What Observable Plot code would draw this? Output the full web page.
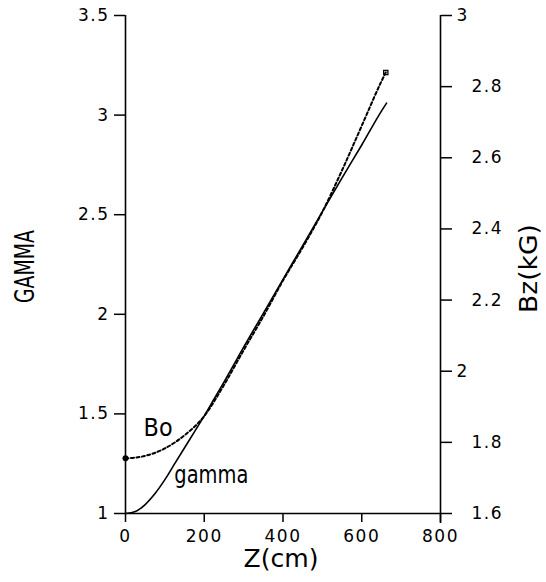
<!DOCTYPE html>
<html>
<head>
<meta charset="utf-8">
<script src="https://cdn.jsdelivr.net/npm/d3@7"></script>
<script src="https://cdn.jsdelivr.net/npm/@observablehq/plot@0.6"></script>
<style>
  html, body { margin: 0; padding: 0; background: #fff; }
  .ticklbl text { letter-spacing: 1.5px; }
</style>
</head>
<body>
<div id="chart"></div>
<script>
// ---- data ----
const zGamma    = [0, 25, 50, 75, 100, 125, 150, 175, 200, 225, 250, 300, 350, 400, 450, 500, 550, 600, 650, 663];
const gammaVals = [1.0, 1.01, 1.045, 1.1, 1.17, 1.25, 1.33, 1.41, 1.49, 1.575, 1.66, 1.835, 2.005, 2.175, 2.345, 2.515, 2.685, 2.85, 3.02, 3.06];

const zBo    = [0, 50, 100, 150, 200, 250, 300, 350, 400, 450, 500, 550, 600, 650, 661];
const boVals = [1.755, 1.762, 1.783, 1.82, 1.874, 1.961, 2.059, 2.154, 2.255, 2.348, 2.448, 2.565, 2.69, 2.815, 2.84];

const xTicks = [0, 200, 400, 600, 800];
const gammaTicks = [1, 1.5, 2, 2.5, 3, 3.5];
const bzTicksDecimal = [1.6, 1.8, 2.2, 2.4, 2.6, 2.8];
const bzTicksInteger = [2, 3];

// right axis (Bz, kG) mapped onto the gamma scale: 1.6..3 <-> 1..3.5
const bzToG = b => 1 + (b - 1.6) * (2.5 / 1.4);
const gToBz = g => 1.6 + (g - 1) * (1.4 / 2.5);
const fmtBz = g => String(Math.round(gToBz(g) * 10) / 10);

const gammaData = zGamma.map((z, i) => ({z, g: gammaVals[i]}));
const boData = zBo.map((z, i) => ({z, g: bzToG(boVals[i])}));

const font = "'DejaVu Sans', sans-serif";

const chart = Plot.plot({
  width: 546,
  height: 582,
  marginLeft: 125,
  marginRight: 106,
  marginTop: 15,
  marginBottom: 69,
  x: {domain: [0, 800]},
  y: {domain: [1, 3.5]},
  style: {fontFamily: font, fontSize: "17px", color: "#000", background: "#fff"},
  marks: [
    Plot.axisY(gammaTicks, {anchor: "left", tickSize: 11, tickPadding: 5, strokeWidth: 1.5,
      tickFormat: d => String(d), label: null, fontSize: 17, className: "ticklbl"}),
    Plot.axisY(bzTicksDecimal.map(bzToG), {anchor: "right", tickSize: 11, tickPadding: 20, strokeWidth: 1.5,
      tickFormat: fmtBz, label: null, fontSize: 17, className: "ticklbl"}),
    Plot.axisY(bzTicksInteger.map(bzToG), {anchor: "right", tickSize: 11, tickPadding: 5, strokeWidth: 1.5,
      tickFormat: fmtBz, label: null, fontSize: 17, className: "ticklbl"}),
    Plot.axisX(xTicks, {anchor: "bottom", tickSize: 9, tickPadding: 7, strokeWidth: 1.5,
      tickFormat: d => String(d), label: null, fontSize: 17, className: "ticklbl"}),
    Plot.ruleX([0], {y1: 1, y2: 3.5, strokeWidth: 1.6}),
    Plot.ruleX([800], {y1: 0.95, y2: 3.5, strokeWidth: 1.6}),
    Plot.ruleY([1], {x1: 0, x2: 800, strokeWidth: 1.6}),
    Plot.line(gammaData, {x: "z", y: "g", curve: "monotone-x", stroke: "#000", strokeWidth: 1.6}),
    Plot.line(boData, {x: "z", y: "g", curve: "monotone-x", stroke: "#000", strokeWidth: 2, strokeDasharray: "3,2.5"}),
    Plot.dot(boData.slice(0, 1), {x: "z", y: "g", r: 3, fill: "#000"}),
    Plot.dot(boData.slice(-1), {x: "z", y: "g", symbol: "square", r: 2.4, stroke: "#000", strokeWidth: 1.3}),
    Plot.text(["Bo"], {x: 46, y: 1.43, text: d => d, textAnchor: "start", fontSize: 24, className: "lbl-bo"}),
    Plot.text(["gamma"], {x: 124, y: 1.194, text: d => d, textAnchor: "start", fontSize: 24, className: "lbl-gamma"}),
    Plot.text(["GAMMA"], {frameAnchor: "left", textAnchor: "middle", dx: -100, dy: 2, rotate: -90, text: d => d, fontSize: 26, className: "lbl-GAMMA"}),
    Plot.text(["Bz(kG)"], {frameAnchor: "right", textAnchor: "middle", dx: 89, dy: 4, rotate: -90, text: d => d, fontSize: 24, className: "lbl-bz"}),
    Plot.text(["Z(cm)"], {frameAnchor: "bottom", textAnchor: "middle", dx: -2, dy: 53, text: d => d, fontSize: 24, className: "lbl-z"})
  ]
});

document.getElementById("chart").appendChild(chart);

const fit = (cls, len) => d3.select(chart).selectAll(`.${cls} text`)
  .attr("textLength", len).attr("lengthAdjust", "spacingAndGlyphs");
fit("lbl-bo", 29);
fit("lbl-gamma", 74);
fit("lbl-GAMMA", 73);
fit("lbl-bz", 89);
fit("lbl-z", 75);
</script>
</body>
</html>
